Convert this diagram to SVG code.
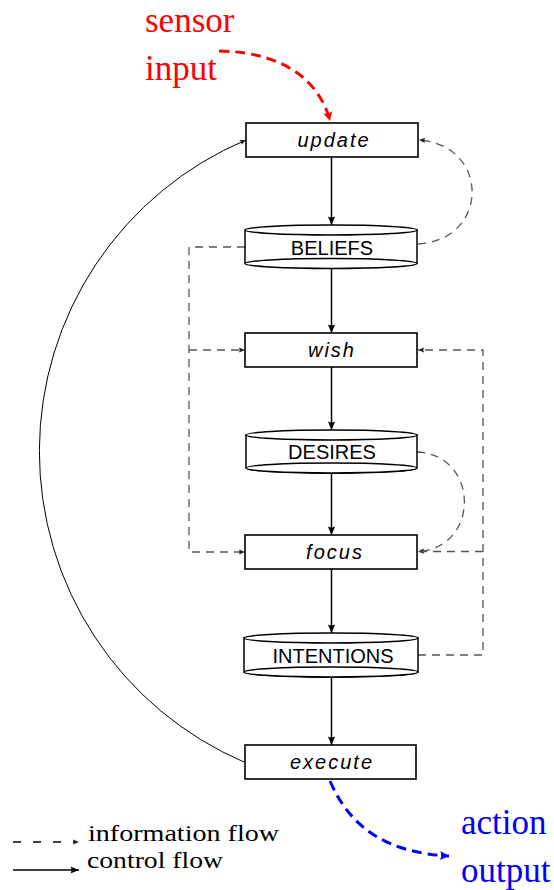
<svg xmlns="http://www.w3.org/2000/svg" width="554" height="890" viewBox="0 0 554 890">
  <style>
    .box { fill: #fff; stroke: #000; stroke-width: 1.6; }
    .cyl { fill: #fff; stroke: #000; stroke-width: 1.5; }
    .proc { font-family: "Liberation Sans", Arial, sans-serif; font-style: italic; font-size: 20px; letter-spacing: 2px; text-anchor: middle; fill: #000; }
    .store { font-family: "Liberation Sans", Arial, sans-serif; font-size: 20px; text-anchor: middle; fill: #000; }
    .ctrl { fill: none; stroke: #000; stroke-width: 1.5; }
    .info { fill: none; stroke: #555; stroke-width: 1.3; stroke-dasharray: 8 6; }
    .loop { fill: none; stroke: #000; stroke-width: 1; }
    .io { font-family: "Liberation Serif", "Times New Roman", serif; font-size: 35px; }
    .legend { font-family: "Liberation Serif", "Times New Roman", serif; font-size: 24px; fill: #000; }
  </style>
  <defs>
    <marker id="ah-ctrl" markerUnits="userSpaceOnUse" markerWidth="12" markerHeight="10" refX="0" refY="0" viewBox="-10 -5 12 10" orient="auto">
      <path d="M0,0 L-8.5,-3.6 Q-6.5,0 -8.5,3.6 Z" fill="#000"/>
    </marker>
    <marker id="ah-info" markerUnits="userSpaceOnUse" markerWidth="10" markerHeight="8" refX="0" refY="0" viewBox="-8 -4 10 8" orient="auto">
      <path d="M0,0 L-6,-2.6 Q-4.5,0 -6,2.6 Z" fill="#222"/>
    </marker>
    <marker id="ah-red" markerUnits="userSpaceOnUse" markerWidth="12" markerHeight="12" refX="0" refY="0" viewBox="-10 -6 12 12" orient="auto">
      <path d="M0,0 L-9,-4.5 Q-6.5,0 -9,4.5 Z" fill="#f00"/>
    </marker>
    <marker id="ah-blue" markerUnits="userSpaceOnUse" markerWidth="12" markerHeight="12" refX="0" refY="0" viewBox="-10 -6 12 12" orient="auto">
      <path d="M0,0 L-9,-4.5 Q-6.5,0 -9,4.5 Z" fill="#00f"/>
    </marker>
  </defs>

  <!-- connectors -->
  <g id="connectors">
    <!-- control flow down the pipeline -->
    <path class="ctrl" d="M331.5,157 V225" marker-end="url(#ah-ctrl)"/>
    <path class="ctrl" d="M331.5,269 V333" marker-end="url(#ah-ctrl)"/>
    <path class="ctrl" d="M331.5,367 V430" marker-end="url(#ah-ctrl)"/>
    <path class="ctrl" d="M331.5,473 V535" marker-end="url(#ah-ctrl)"/>
    <path class="ctrl" d="M331.5,569 V633" marker-end="url(#ah-ctrl)"/>
    <path class="ctrl" d="M331.5,677 V745" marker-end="url(#ah-ctrl)"/>
    <!-- loop back from execute to update -->
    <path class="loop" d="M244,762 A 338 338 0 0 1 246,140" marker-end="url(#ah-info)"/>

    <!-- information flow -->
    <path class="info" d="M418,244 C490,240 490,145 419,140" marker-end="url(#ah-info)"/>
    <path class="info" d="M245,247 H189 V552 H245" marker-end="url(#ah-info)"/>
    <path class="info" d="M189,350 H245" marker-end="url(#ah-info)"/>
    <path class="info" d="M417,452 C480,455 480,548 418,551.5" marker-end="url(#ah-info)"/>
    <path class="info" d="M418,655 H483 V350 H418" marker-end="url(#ah-info)"/>
    <path class="info" d="M483,551.5 H418"/>

    <!-- sensor input / action output -->
    <path d="M219,51 C285,52 320,82 330,121" fill="none" stroke="#f00" stroke-width="3" stroke-dasharray="10 6" marker-end="url(#ah-red)"/>
    <path d="M330,781 C352,832 392,853 449,856" fill="none" stroke="#00f" stroke-width="3" stroke-dasharray="10 6" marker-end="url(#ah-blue)"/>
  </g>

  <!-- nodes -->
  <g id="update">
    <rect class="box" x="246" y="123" width="172" height="34"/>
    <text class="proc" x="334" y="147">update</text>
  </g>
  <g id="beliefs">
    <path class="cyl" d="M245,230 V263 A86,5 0 0 0 417,263 V230 Z"/>
    <ellipse class="cyl" cx="331" cy="230" rx="86" ry="5"/>
    <ellipse class="cyl" cx="331" cy="263.5" rx="86" ry="5"/>
    <text class="store" x="332" y="255">BELIEFS</text>
  </g>
  <g id="wish">
    <rect class="box" x="245" y="333" width="172" height="34"/>
    <text class="proc" x="332" y="357">wish</text>
  </g>
  <g id="desires">
    <path class="cyl" d="M246,435 V468 A85.5,5 0 0 0 417,468 V435 Z"/>
    <ellipse class="cyl" cx="331.5" cy="435" rx="85.5" ry="5"/>
    <ellipse class="cyl" cx="331.5" cy="468" rx="85.5" ry="5"/>
    <text class="store" x="332" y="459">DESIRES</text>
  </g>
  <g id="focus">
    <rect class="box" x="245" y="535" width="172" height="34"/>
    <text class="proc" x="335" y="559">focus</text>
  </g>
  <g id="intentions">
    <path class="cyl" d="M244,638 V672 A87,5 0 0 0 418,672 V638 Z"/>
    <ellipse class="cyl" cx="331" cy="638" rx="87" ry="5"/>
    <ellipse class="cyl" cx="331" cy="672" rx="87" ry="5"/>
    <text class="store" x="333" y="662.5">INTENTIONS</text>
  </g>
  <g id="execute">
    <rect class="box" x="245" y="745" width="171" height="34"/>
    <text class="proc" x="332" y="769">execute</text>
  </g>

  <!-- external input and output -->
  <g id="sensor-input">
    <text class="io" x="145" y="32" fill="#f00">sensor</text>
    <text class="io" x="145" y="80" fill="#f00">input</text>
  </g>
  <g id="action-output">
    <text class="io" x="461" y="834" fill="#00f">action</text>
    <text class="io" x="461" y="882" fill="#00f">output</text>
  </g>

  <!-- legend -->
  <g id="legend">
    <path d="M13,842 H77" fill="none" stroke="#000" stroke-width="1.5" stroke-dasharray="8 12"/>
    <path d="M70,842 H79" fill="none" stroke="none" marker-end="url(#ah-info)"/>
    <path d="M13,870 H79" fill="none" stroke="#000" stroke-width="1.5" marker-end="url(#ah-ctrl)"/>
    <text class="legend" x="88" y="841" textLength="191" lengthAdjust="spacingAndGlyphs">information flow</text>
    <text class="legend" x="87" y="868" textLength="136" lengthAdjust="spacingAndGlyphs">control flow</text>
  </g>
</svg>
